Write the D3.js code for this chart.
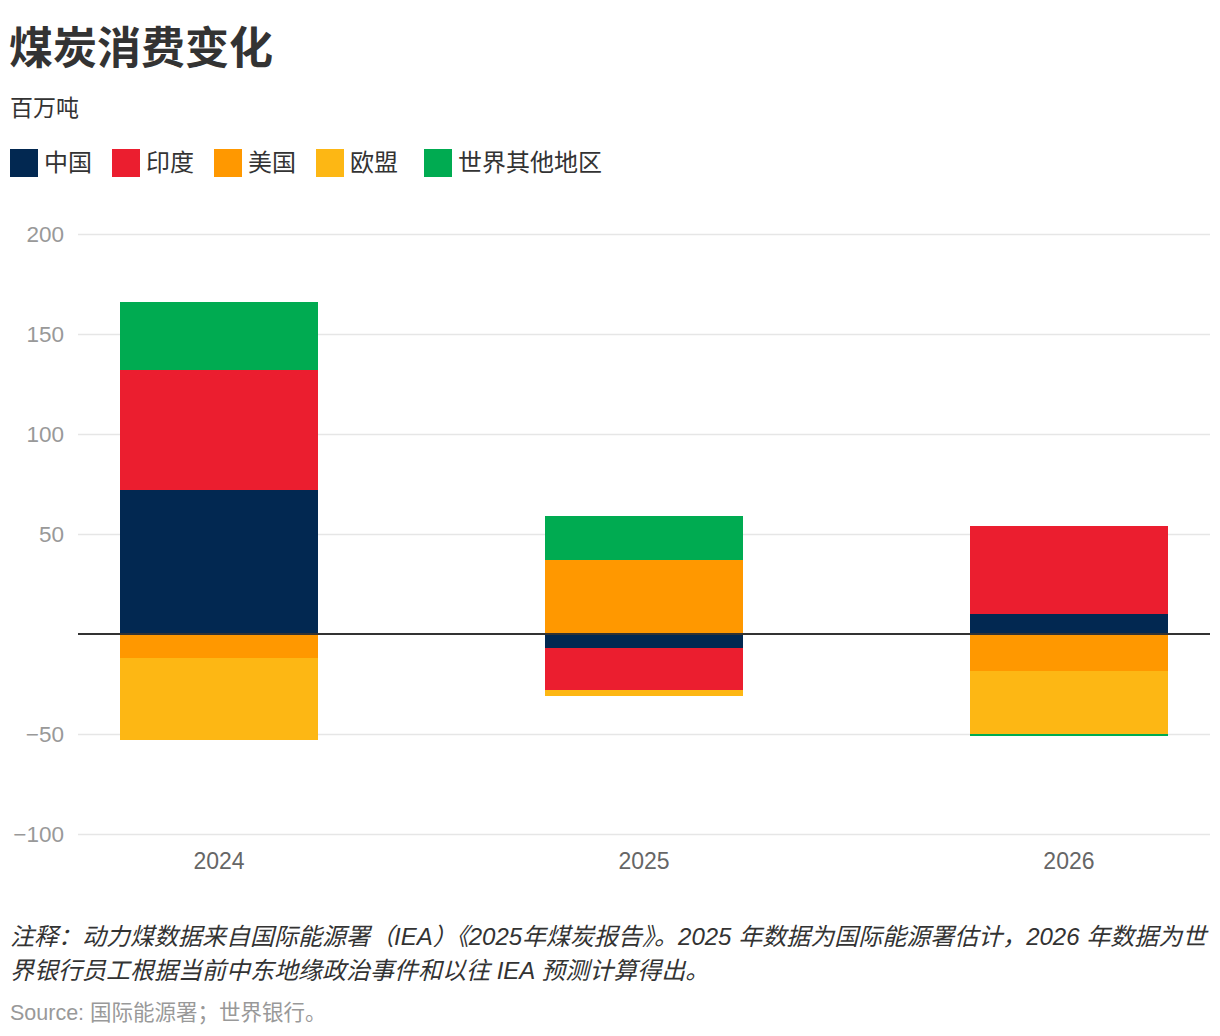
<!DOCTYPE html>
<html>
<head>
<meta charset="utf-8">
<script src="https://cdn.jsdelivr.net/npm/d3@7"></script>
<style>
	body { margin: 0; background: #fff; }
	svg text { font-family: "Liberation Sans", "Noto Sans CJK SC", sans-serif; }
</style>
</head>
<body>
<svg id="chart" width="1220" height="1036"></svg>
<script>
// data, million tonnes
const years = ['2024', '2025', '2026'];
const regions = ['中国', '印度', '美国', '欧盟', '世界其他地区'];
const colors = ['#022851', '#eb1e2f', '#ff9800', '#fdb714', '#00ab51'];
const china = [72, -7, 10];
const india = [60, -21, 44];
const usa = [-12, 37, -18.5];
const eu = [-41, -3, -31.5];
const rest = [34, 22, -1];
const yTicks = [-100, -50, 0, 50, 100, 150, 200];

const series = [china, india, usa, eu, rest];

let svg = d3.select('#chart');

let x = d3.scaleBand()
	.domain(years)
	.range([78, 1210])
	.paddingInner(0.534)
	.paddingOuter(0.099);

let y = d3.scaleLinear()
	.domain([-100, 200])
	.range([834, 234]);

// title block
svg.append('text')
	.attr('x', 9).attr('y', 64)
	.attr('font-size', 44).attr('font-weight', 'bold')
	.attr('fill', '#333')
	.text('煤炭消费变化');

svg.append('text')
	.attr('x', 10).attr('y', 116)
	.attr('font-size', 23).attr('fill', '#333')
	.text('百万吨');

// legend
let legendX = [10, 112, 214, 316, 424];
let legend = svg.append('g').selectAll('g')
	.data(regions)
	.enter()
	.append('g')
	.attr('transform', (d,i) => `translate(${legendX[i]}, 149)`);

legend.append('rect')
	.attr('width', 28).attr('height', 28)
	.attr('fill', (d,i) => colors[i]);

legend.append('text')
	.attr('x', 34).attr('y', 22)
	.attr('font-size', 24).attr('fill', '#333')
	.text(d => d);

// grid + y labels
let yAxis = d3.axisLeft(y)
	.tickValues(yTicks)
	.tickSize(-(1210 - 78))
	.tickFormat(d => d == 0 ? '' : d3.format('')(d).replace('-', '−'));

let ga = svg.append('g')
	.attr('transform', 'translate(78,0)')
	.call(yAxis);

ga.select('.domain').remove();
ga.selectAll('line')
	.attr('stroke', '#e6e6e6')
	.attr('stroke-width', 1.5)
	.attr('stroke-opacity', d => d == 0 ? 0 : 1);
ga.selectAll('text')
	.attr('x', -14)
	.attr('font-size', 22.5)
	.attr('fill', '#999')
	.attr('dy', '0.35em');

// stacked bars, positive and negative stacks separately
let rows = years.map((yr, j) => {
	let row = {year: yr};
	regions.forEach((r, i) => row[r] = series[i][j]);
	return row;
});

let stack = d3.stack()
	.keys(regions)
	.offset(d3.stackOffsetDiverging);

let layers = stack(rows);

svg.append('g').selectAll('g')
	.data(layers)
	.enter()
	.append('g')
	.attr('fill', (d,i) => colors[i])
	.selectAll('rect')
	.data(d => d)
	.enter()
	.append('rect')
	.attr('x', d => x(d.data.year))
	.attr('width', x.bandwidth())
	.attr('y', d => y(Math.max(d[0], d[1])))
	.attr('height', d => Math.abs(y(d[0]) - y(d[1])))
	.attr('shape-rendering', 'crispEdges');

// zero line
svg.append('line')
	.attr('x1', 78).attr('x2', 1210)
	.attr('y1', y(0)).attr('y2', y(0))
	.attr('stroke', '#333')
	.attr('stroke-width', 2);

// x labels
let xAxis = d3.axisBottom(x).tickSize(0);
let gx = svg.append('g')
	.attr('transform', 'translate(0,850)')
	.call(xAxis);
gx.select('.domain').remove();
gx.selectAll('text')
	.attr('font-size', 23)
	.attr('fill', '#666')
	.attr('dy', '0.71em');

// notes
let notes = [
	'注释：动力煤数据来自国际能源署（IEA）《2025年煤炭报告》。2025 年数据为国际能源署估计，2026 年数据为世',
	'界银行员工根据当前中东地缘政治事件和以往 IEA 预测计算得出。'
];

svg.append('g').selectAll('text')
	.data(notes)
	.enter()
	.append('text')
	.attr('x', 10)
	.attr('y', (d,i) => 945 + i * 34)
	.attr('font-size', 24)
	.attr('font-style', 'italic')
	.attr('fill', '#333')
	.text(d => d);

svg.append('text')
	.attr('x', 10).attr('y', 1020)
	.attr('font-size', 21.5)
	.attr('fill', '#999')
	.text('Source: 国际能源署；世界银行。');
</script>
</body>
</html>
